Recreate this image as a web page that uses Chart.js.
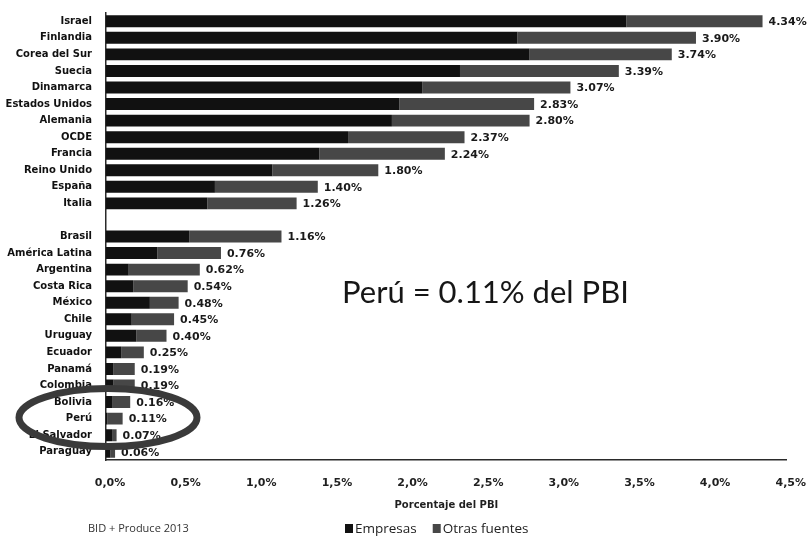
<!DOCTYPE html>
<html>
<head>
<meta charset="utf-8">
<script src="https://cdn.jsdelivr.net/npm/chart.js@4.4.1/dist/chart.umd.min.js"></script>
<style>
  html, body { margin: 0; padding: 0; background: #fff; }
  #wrap { width: 811px; height: 540px; }
</style>
</head>
<body>
<div id="wrap"><canvas id="myChart" width="811" height="540"></canvas></div>
<script>
// datos (porcentaje del PBI)
const paises = ['Israel', 'Finlandia', 'Corea del Sur', 'Suecia', 'Dinamarca', 'Estados Unidos',
  'Alemania', 'OCDE', 'Francia', 'Reino Unido', 'España', 'Italia', '',
  'Brasil', 'América Latina', 'Argentina', 'Costa Rica', 'México', 'Chile', 'Uruguay',
  'Ecuador', 'Panamá', 'Colombia', 'Bolivia', 'Perú', 'El Salvador', 'Paraguay'];
const empresas = [3.44, 2.72, 2.80, 2.34, 2.09, 1.94, 1.89, 1.60, 1.41, 1.10, 0.72, 0.67, null,
  0.55, 0.34, 0.15, 0.18, 0.29, 0.17, 0.20, 0.10, 0.05, 0.05, 0.04, 0.01, 0.04, 0.03];
const otrasFuentes = [0.90, 1.18, 0.94, 1.05, 0.98, 0.89, 0.91, 0.77, 0.83, 0.70, 0.68, 0.59, null,
  0.61, 0.42, 0.47, 0.36, 0.19, 0.28, 0.20, 0.15, 0.14, 0.14, 0.12, 0.10, 0.03, 0.03];
const totales = ['4.34%', '3.90%', '3.74%', '3.39%', '3.07%', '2.83%', '2.80%', '2.37%', '2.24%',
  '1.80%', '1.40%', '1.26%', '', '1.16%', '0.76%', '0.62%', '0.54%', '0.48%', '0.45%', '0.40%',
  '0.25%', '0.19%', '0.19%', '0.16%', '0.11%', '0.07%', '0.06%'];
const xTicks = ['0,0%', '0,5%', '1,0%', '1,5%', '2,0%', '2,5%', '3,0%', '3,5%', '4,0%', '4,5%'];
const nota = 'Perú = 0.11% del PBI';
const fuente = 'BID + Produce 2013';
const resaltado = 'Perú';

const colEmpresas = '#111111';
const colOtras = '#474747';

const extras = {
  id: 'extras',
  afterDatasetsDraw(chart) {
    const ctx = chart.ctx;
    const meta = chart.getDatasetMeta(1);
    ctx.save();
    ctx.font = 'bold 11px "DejaVu Sans"';
    ctx.fillStyle = '#1a1a1a';
    ctx.textBaseline = 'middle';
    ctx.textAlign = 'left';
    meta.data.forEach((bar, i) => {
      if (!totales[i]) return;
      ctx.fillText(totales[i], bar.x + 6, bar.y + 1);
    });
    ctx.restore();
  },
  afterDraw(chart) {
    const ctx = chart.ctx;
    const x = chart.scales.x, y = chart.scales.y;
    ctx.save();
    // nota grande
    ctx.font = '31px Lato';
    ctx.fillStyle = '#161616';
    ctx.textBaseline = 'alphabetic';
    ctx.fillText(nota, 342, 303);

    // elipse alrededor de Peru
    const idx = paises.indexOf(resaltado);
    const cx = x.getPixelForValue(0) + 2;
    const cy = y.getPixelForValue(idx) - 1;
    ctx.beginPath();
    ctx.ellipse(cx, cy, 89, 29, 0, 0, Math.PI * 2);
    ctx.lineWidth = 7;
    ctx.strokeStyle = '#3a3a3a';
    ctx.stroke();

    // fuente y leyenda
    ctx.font = '11px "Open Sans"';
    ctx.fillStyle = '#333';
    ctx.textBaseline = 'middle';
    ctx.fillText(fuente, 88, 529);
    ctx.font = '13.5px "Open Sans"';
    const ds = chart.data.datasets;
    let lx = 345;
    ds.forEach((d) => {
      ctx.fillStyle = d.backgroundColor;
      ctx.fillRect(lx, 524, 8, 9);
      ctx.fillStyle = '#222';
      ctx.fillText(d.label, lx + 10, 529);
      lx += 10 + ctx.measureText(d.label).width + 16;
    });
    ctx.restore();
  }
};

new Chart(document.getElementById('myChart'), {
  type: 'bar',
  data: {
    labels: paises,
    datasets: [
      { label: 'Empresas', data: empresas, backgroundColor: colEmpresas,
        barPercentage: 0.72, categoryPercentage: 1.0 },
      { label: 'Otras fuentes', data: otrasFuentes, backgroundColor: colOtras,
        barPercentage: 0.72, categoryPercentage: 1.0 }
    ]
  },
  options: {
    indexAxis: 'y',
    responsive: false,
    animation: false,
    layout: { padding: { left: 0, top: 13, right: 16, bottom: 29 } },
    scales: {
      x: {
        stacked: true,
        min: 0,
        max: 4.5,
        grid: { display: false },
        border: { display: true, color: '#2a2a2a', width: 1.5 },
        ticks: {
          stepSize: 0.5,
          padding: 9,
          labelOffset: 4,
          maxRotation: 0,
          autoSkip: false,
          color: '#1f1f1f',
          font: { family: 'DejaVu Sans', size: 11, weight: 'bold' },
          callback: (v, i) => xTicks[i]
        },
        title: {
          display: true,
          text: 'Porcentaje del PBI',
          color: '#1f1f1f',
          font: { family: 'DejaVu Sans', size: 10, weight: 'bold' },
          padding: { top: 10, bottom: 0 }
        },
        afterFit(scale) { scale.height = 51; }
      },
      y: {
        stacked: true,
        grid: { display: false },
        border: { display: true, color: '#2a2a2a', width: 1.5 },
        ticks: {
          autoSkip: false,
          padding: 6,
          color: '#111',
          font: { family: 'DejaVu Sans', size: 10, weight: 'bold' }
        },
        afterFit(scale) { scale.width = 106; }
      }
    },
    plugins: {
      legend: { display: false },
      tooltip: { enabled: false }
    }
  },
  plugins: [extras]
});
</script>
</body>
</html>
